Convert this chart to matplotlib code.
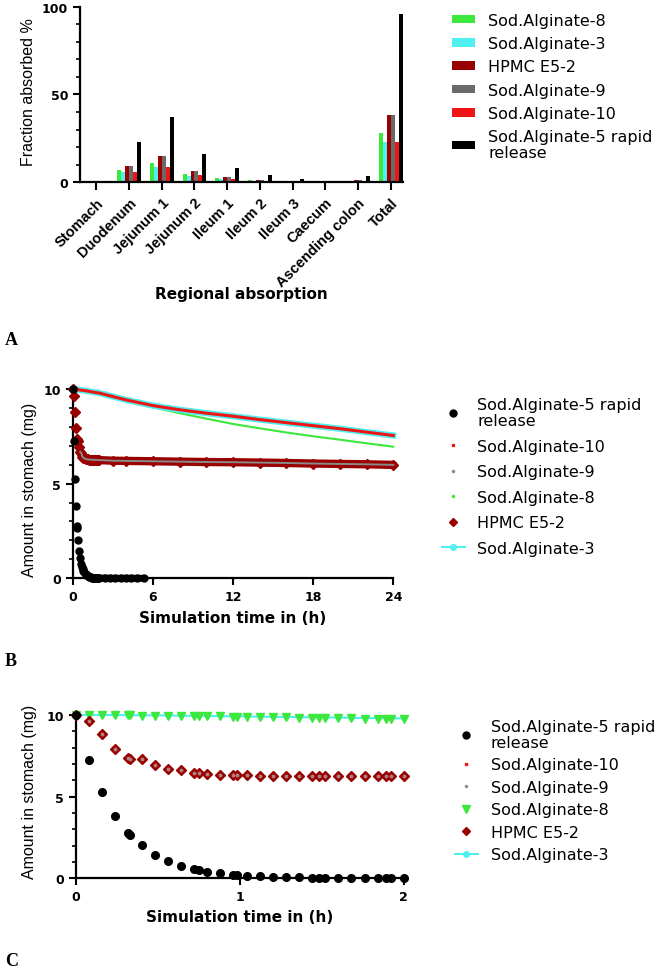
import numpy as np
import matplotlib.pyplot as plt
from matplotlib.lines import Line2D
from matplotlib.patches import Patch
from matplotlib.ticker import MultipleLocator

# ---- panel A: fraction absorbed per region (%)
regions = ['Stomach', 'Duodenum', 'Jejunum 1', 'Jejunum 2', 'Ileum 1', 'Ileum 2',
           'Ileum 3', 'Caecum', 'Ascending colon', 'Total']
alg8_abs = [0, 6.9, 11.1, 4.6, 2.1, 0.9, 0.2, 0.1, 0.3, 28.2]
alg3_abs = [0, 5.7, 8.8, 3.4, 1.5, 0.7, 0.2, 0.1, 0.3, 22.9]
hpmc_abs = [0, 9.2, 14.9, 6.3, 3.1, 1.4, 0.5, 0.1, 1.3, 38.4]
alg9_abs = [0, 9.2, 14.9, 6.3, 3.1, 1.4, 0.5, 0.1, 1.3, 38.4]
alg10_abs = [0, 5.7, 8.8, 3.8, 1.5, 0.7, 0.3, 0.1, 0.6, 22.9]
alg5_abs = [0, 23.1, 37.4, 16.2, 7.8, 3.8, 1.9, 0.6, 3.4, 96.0]

# ---- panel C: first 2 h in stomach (mg)
t_c = [0, 0.08, 0.16, 0.24, 0.32, 0.33, 0.40, 0.48, 0.56, 0.64, 0.72, 0.75, 0.80,
       0.88, 0.96, 0.98, 1.04, 1.12, 1.20, 1.28, 1.36, 1.44, 1.48, 1.52, 1.60,
       1.68, 1.76, 1.84, 1.89, 1.92, 2.0]
alg5_c = [10, 7.25, 5.25, 3.83, 2.78, 2.67, 2.04, 1.45, 1.06, 0.77, 0.57, 0.51, 0.41,
          0.31, 0.22, 0.19, 0.16, 0.12, 0.08, 0.06, 0.05, 0.04, 0.03, 0.03, 0.02,
          0.02, 0.01, 0.01, 0.01, 0.01, 0.01]
hpmc_c = [10, 9.63, 8.80, 7.94, 7.37, 7.27, 7.27, 6.95, 6.68, 6.62, 6.42, 6.42, 6.36,
          6.33, 6.31, 6.30, 6.29, 6.28, 6.27, 6.27, 6.26, 6.26, 6.26, 6.26, 6.25,
          6.25, 6.25, 6.25, 6.25, 6.25, 6.24]
alg8_c = [10.0, 10.0, 9.99, 9.98, 9.97, 9.97, 9.96, 9.95, 9.94, 9.93, 9.92, 9.91, 9.91,
          9.90, 9.88, 9.88, 9.87, 9.86, 9.85, 9.84, 9.82, 9.81, 9.80, 9.80, 9.79,
          9.78, 9.76, 9.75, 9.74, 9.74, 9.73]
alg3_c = [10.0, 10.0, 9.99, 9.99, 9.98, 9.98, 9.97, 9.97, 9.96, 9.95, 9.94, 9.94, 9.93,
          9.92, 9.91, 9.91, 9.90, 9.89, 9.88, 9.87, 9.86, 9.85, 9.85, 9.84, 9.83,
          9.82, 9.81, 9.80, 9.80, 9.79, 9.78]

# ---- panel B: full 24 h
t_b5 = t_c + [2.4, 2.8, 3.2, 3.6, 4.0, 4.4, 4.8, 5.3]
alg5_b = alg5_c + [0.01, 0.0, 0.0, 0.0, 0.0, 0.0, 0.0, 0.0]
t_hpmc_b = t_c + [3, 4, 6, 8, 10, 12, 14, 16, 18, 20, 22, 24]
hpmc_b = hpmc_c + [6.21, 6.20, 6.18, 6.16, 6.14, 6.13, 6.11, 6.09, 6.06, 6.04, 6.02, 5.99]
t_b = [0, 1, 2, 3, 4, 6, 8, 10, 12, 14, 16, 18, 20, 22, 24]
alg3_b = [10.0, 9.9, 9.78, 9.6, 9.42, 9.12, 8.9, 8.72, 8.56, 8.38, 8.22, 8.06, 7.9, 7.72, 7.54]
alg10_b = [10.0, 9.9, 9.78, 9.6, 9.42, 9.12, 8.9, 8.72, 8.56, 8.38, 8.22, 8.06, 7.9, 7.72, 7.54]
alg8_b = [10.0, 9.86, 9.73, 9.52, 9.35, 9.03, 8.72, 8.43, 8.15, 7.92, 7.7, 7.5, 7.32, 7.13, 6.95]

GREEN = '#3be83b'
CYAN = '#4ff0f0'
DARKRED = '#990000'
GRAY = '#6a6a6a'
RED = '#ee1515'

plt.rcParams['font.family'] = 'DejaVu Sans'
fig = plt.figure(figsize=(6.61, 9.70), dpi=100)


def style_axes(ax):
    for s in ['top', 'right']:
        ax.spines[s].set_visible(False)
    for s in ['left', 'bottom']:
        ax.spines[s].set_linewidth(1.6)
    ax.tick_params(which='major', length=5, width=1.5, labelsize=9)
    ax.tick_params(which='minor', length=3, width=1.2)
    for lab in ax.get_xticklabels() + ax.get_yticklabels():
        lab.set_fontweight('bold')


# ---------------- A
axA = fig.add_axes([0.121, 0.8113, 0.489, 0.1805])
colors = [GREEN, CYAN, DARKRED, GRAY, RED, 'black']
names = ['Sod.Alginate-8', 'Sod.Alginate-3', 'HPMC E5-2', 'Sod.Alginate-9',
         'Sod.Alginate-10', 'Sod.Alginate-5 rapid\nrelease']
series = [alg8_abs, alg3_abs, hpmc_abs, alg9_abs, alg10_abs, alg5_abs]
x = np.arange(len(regions))
w = 0.12
for i, (vals, c) in enumerate(zip(series, colors)):
    axA.bar(x + (i - 2.5) * w, vals, width=w, color=c, linewidth=0)
axA.set_xlim(-0.5, 9.38)
axA.set_ylim(0, 100)
axA.set_yticks([0, 50, 100])
axA.yaxis.set_minor_locator(MultipleLocator(10))
axA.set_xticks(x)
axA.set_xticklabels(regions)
style_axes(axA)
axA.tick_params(axis='x', length=6)
for lab in axA.get_xticklabels():
    lab.set_rotation(45)
    lab.set_ha('right')
    lab.set_rotation_mode('anchor')
    lab.set_family('Liberation Sans')
    lab.set_fontsize(10.5)
axA.set_ylabel('Fraction absorbed %', family='Liberation Sans', fontsize=11.5)
axA.yaxis.set_label_coords(-0.136, 0.52)
axA.set_xlabel('Regional absorption', fontsize=11, fontweight='bold')
axA.xaxis.set_label_coords(0.5, -0.594)
hA = [Patch(color=c, linewidth=0) for c in colors]
legA = fig.legend(hA, names, loc='upper left', bbox_to_anchor=(0.684, 0.9857),
                  frameon=False, fontsize=11.5, borderpad=0, borderaxespad=0,
                  handlelength=1.45, handleheight=0.45, handletextpad=0.8,
                  labelspacing=0.52)
for t in legA.get_texts():
    t.set_linespacing(1.05)

# ---------------- B
axB = fig.add_axes([0.110, 0.4028, 0.485, 0.1952])
tb5 = np.array(t_b5)
a5b = np.array(alg5_b)
thb = np.array(t_hpmc_b)
hb = np.array(hpmc_b)
axB.plot(t_b, alg8_b, color=GREEN, lw=1.5, clip_on=False, zorder=2)
axB.plot(t_b, alg3_b, color=CYAN, lw=4.5, clip_on=False, zorder=3)
axB.plot(t_b, alg10_b, color=RED, lw=2.2, clip_on=False, zorder=4)
m = thb >= 0.5
axB.plot(thb[m], hb[m], color=DARKRED, lw=6, solid_capstyle='round', clip_on=False, zorder=3)
axB.plot(thb, hb, 'D', color=DARKRED, ms=5.5, clip_on=False, zorder=3)
axB.plot(thb[m], hb[m], color='#8a8a8a', lw=1.4, clip_on=False, zorder=4)
m5 = tb5 >= 0.6
axB.plot(tb5[m5], a5b[m5], color='black', lw=5, solid_capstyle='round', clip_on=False, zorder=5)
axB.plot(tb5, a5b, 'o', color='black', ms=5, clip_on=False, zorder=5)
axB.set_xlim(0, 24)
axB.set_ylim(0, 10)
axB.set_xticks([0, 6, 12, 18, 24])
axB.set_yticks([0, 5, 10])
axB.yaxis.set_minor_locator(MultipleLocator(1))
style_axes(axB)
axB.set_ylabel('Amount in stomach (mg)', family='Liberation Sans', fontsize=11.5)
axB.yaxis.set_label_coords(-0.111, 0.474)
axB.set_xlabel('Simulation time in (h)', fontsize=11, fontweight='bold')
axB.xaxis.set_label_coords(0.5, -0.17)

namesBC = ['Sod.Alginate-5 rapid\nrelease', 'Sod.Alginate-10', 'Sod.Alginate-9',
           'Sod.Alginate-8', 'HPMC E5-2', 'Sod.Alginate-3']


def handles(alg8_marker, alg8_ms):
    return [Line2D([], [], ls='none', marker='o', color='black', ms=5),
            Line2D([], [], ls='none', marker='s', color=RED, ms=2),
            Line2D([], [], ls='none', marker='o', color='#8a8a8a', ms=1.5),
            Line2D([], [], ls='none', marker=alg8_marker, color=GREEN, ms=alg8_ms),
            Line2D([], [], ls='none', marker='D', color=DARKRED, ms=4.5),
            Line2D([], [], color=CYAN, lw=1.5, marker='o', ms=4)]


legB = fig.legend(handles('o', 1.5), namesBC, loc='upper left',
                  bbox_to_anchor=(0.668, 0.5898), frameon=False, fontsize=11.5,
                  borderpad=0, borderaxespad=0, handlelength=1.45,
                  handletextpad=0.8, labelspacing=0.66)
for t in legB.get_texts():
    t.set_linespacing(1.1)

# ---------------- C
axC = fig.add_axes([0.115, 0.0935, 0.496, 0.1685])
axC.plot(t_c, alg3_c, color=CYAN, lw=1.5, marker='o', ms=3, clip_on=False, zorder=2)
axC.plot(t_c, alg3_c, 's', color=RED, ms=1.5, clip_on=False, zorder=2)
axC.plot(t_c, alg8_c, 'v', color=GREEN, ms=6, clip_on=False, zorder=3)
axC.plot(t_c, hpmc_c, 'D', color=DARKRED, ms=5.5, clip_on=False, zorder=3)
axC.plot(t_c, hpmc_c, 'o', color='#b08080', ms=1.8, clip_on=False, zorder=4)
axC.plot(t_c, alg5_c, 'o', color='black', ms=5.5, clip_on=False, zorder=5)
axC.set_xlim(0, 2)
axC.set_ylim(0, 10)
axC.set_xticks([0, 1, 2])
axC.set_yticks([0, 5, 10])
axC.yaxis.set_minor_locator(MultipleLocator(1))
style_axes(axC)
axC.set_ylabel('Amount in stomach (mg)', family='Liberation Sans', fontsize=11.5)
axC.yaxis.set_label_coords(-0.119, 0.534)
axC.set_xlabel('Simulation time in (h)', fontsize=11, fontweight='bold')
axC.xaxis.set_label_coords(0.5, -0.188)
legC = fig.legend(handles('v', 6), namesBC, loc='upper left',
                  bbox_to_anchor=(0.688, 0.2577), frameon=False, fontsize=11.5,
                  borderpad=0, borderaxespad=0, handlelength=1.45,
                  handletextpad=0.8, labelspacing=0.47)
for t in legC.get_texts():
    t.set_linespacing(1.05)

# panel letters
for letter, yy in [('A', 341), ('B', 662), ('C', 962)]:
    fig.text(5 / 661, 1 - yy / 970, letter, family='Liberation Serif',
             fontweight='bold', fontsize=13, va='center', ha='left')

fig.savefig('out.png', dpi=100)
